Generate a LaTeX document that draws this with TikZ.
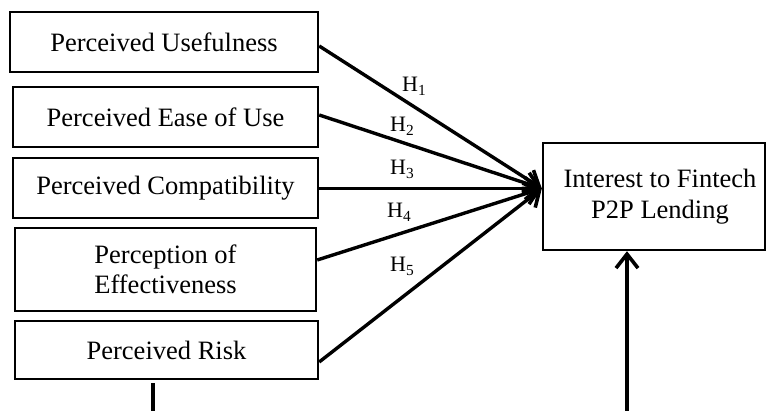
\documentclass[tikz,border=0pt]{standalone}
\usepackage{fontspec}
\setmainfont{Liberation Serif}
\usetikzlibrary{arrows.meta}
\begin{document}
\begin{tikzpicture}[x=1pt,y=1pt,
  box/.style={draw,line width=2.4pt,inner sep=0pt,align=center,
    font=\fontsize{26.5}{30}\selectfont},
  conn/.style={line width=3.4pt,-{Straight Barb[length=14pt,width=22pt,line width=3.6pt]}},
  hlab/.style={anchor=base west,inner sep=0pt,font=\fontsize{22}{24}\selectfont}]
\useasboundingbox (0,0) rectangle (766,411);
% boxes (y measured upward: y = 411 - image y)
\node[box,minimum width=308,minimum height=60] (pu) at (164,369) {Perceived Usefulness};
\node[box,minimum width=305,minimum height=60] (pe) at (165.5,294) {Perceived Ease of Use};
\node[box,minimum width=305,minimum height=60] (pc) at (165.5,223) {Perceived Compatibility};
\node[box,minimum width=301,minimum height=83] (pf) at (165.5,141.5) {Perception of\\Effectiveness};
\node[box,minimum width=303,minimum height=58] (pr) at (166.5,61) {Perceived Risk};
\node[box,minimum width=222,minimum height=107,font=\fontsize{26.5}{31}\selectfont] (it) at (654,214.5) {\hspace*{12pt}Interest to Fintech\\\hspace*{12pt}P2P Lending};
\coordinate (tip) at ([yshift=8pt]it.west);
% converging arrows
\draw[conn] ([yshift=-4pt]pu.east) -- (tip);
\draw[conn] ([yshift=2pt]pe.east) -- (tip);
\draw[conn] (pc.east |- tip) -- (tip);
\draw[conn] ([yshift=9.5pt]pf.east) -- (tip);
\draw[conn] ([yshift=-12pt]pr.east) -- (tip);
% labels
\node[hlab] (h1) at (402,319) {H\textsubscript{1}};
\node[hlab] (h2) at (390,279) {H\textsubscript{2}};
\node[hlab] (h3) at (390,236) {H\textsubscript{3}};
\node[hlab] (h4) at (387,193) {H\textsubscript{4}};
\node[hlab] (h5) at (390,139) {H\textsubscript{5}};
% bottom stub and vertical arrow
\coordinate (sb) at (153,0);
\draw[line width=3.4pt] ([xshift=-13.5pt,yshift=-3pt]pr.south) -- (sb);
\coordinate (vb) at (627,0);
\draw[conn] (vb) -- (vb |- it.south);
\end{tikzpicture}
\end{document}
